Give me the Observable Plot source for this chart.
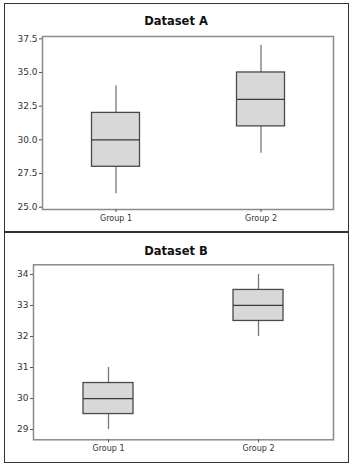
<!DOCTYPE html>
<html>
<head>
<meta charset="utf-8">
<script src="https://cdn.jsdelivr.net/npm/d3@7"></script>
<script src="https://cdn.jsdelivr.net/npm/@observablehq/plot@0.6"></script>
<style>
  html, body { margin: 0; padding: 0; background: #fff; }
  #page { position: relative; width: 363px; height: 469px; overflow: hidden; font-family: "DejaVu Sans", sans-serif; }
  .frame { position: absolute; box-sizing: border-box; border: 1px solid #333; }
  .title { position: absolute; left: 0; width: 352px; text-align: center; font: bold 11.5px "DejaVu Sans", sans-serif; color: #111; }
  .plot { position: absolute; left: 0; }
</style>
</head>
<body>
<div id="page">
  <div class="frame" style="left:4px;top:3px;width:345px;height:230px;border-bottom:2px solid #333;"></div>
  <div class="frame" style="left:4px;top:231px;width:345px;height:232px;border-top:2px solid #333;"></div>
  <div class="title" style="top:14px;">Dataset A</div>
  <div class="title" style="top:244px;">Dataset B</div>
  <div class="plot" id="pa" style="top:0px;"></div>
  <div class="plot" id="pb" style="top:232px;"></div>
</div>
<script>
const groups = ["Group 1", "Group 2"];

// Dataset A
const aMin = [26, 29];
const aQ1  = [28, 31];
const aMed = [30, 33];
const aQ3  = [32, 35];
const aMax = [34, 37];
const aTicks = [25, 27.5, 30, 32.5, 35, 37.5];

// Dataset B
const bMin = [29, 32];
const bQ1  = [29.5, 32.5];
const bMed = [30, 33];
const bQ3  = [30.5, 33.5];
const bMax = [31, 34];
const bTicks = [29, 30, 31, 32, 33, 34];

function rows(mn, q1, md, q3, mx) {
  return groups.map((g, i) => ({group: g, min: mn[i], q1: q1[i], med: md[i], q3: q3[i], max: mx[i]}));
}

function boxChart({data, yDomain, ticks, fmt, marginLeft, marginTop, marginBottom, inset}) {
  return Plot.plot({
    width: 363,
    height: 232,
    marginLeft,
    marginRight: 30,
    marginTop,
    marginBottom,
    style: {fontFamily: "DejaVu Sans, sans-serif", color: "#333", background: "transparent"},
    x: {domain: groups, padding: 0, label: null, tickSize: 3, tickPadding: 3},
    y: {domain: yDomain, ticks: ticks, tickFormat: fmt, label: null, tickSize: 3, tickPadding: 2},
    marks: [
      Plot.frame({stroke: "#8a8a8a", strokeWidth: 1.5}),
      Plot.ruleX(data, {x: "group", y1: "min", y2: "max", stroke: "#777", strokeWidth: 1.3}),
      Plot.barY(data, {x: "group", y1: "q1", y2: "q3", fill: "#d8d8d8", stroke: "#4a4a4a", strokeWidth: 1.3, insetLeft: inset, insetRight: inset}),
      Plot.tickY(data, {x: "group", y: "med", stroke: "#3a3a3a", strokeWidth: 1.2, insetLeft: inset, insetRight: inset}),
      Plot.axisY({ticks: ticks, tickFormat: fmt, tickSize: 3, tickPadding: 2, fontSize: 9, stroke: "#555"}),
      Plot.axisX({tickSize: 3, tickPadding: 3, fontSize: 8, stroke: "#555"})
    ]
  });
}

document.getElementById("pa").append(boxChart({
  data: rows(aMin, aQ1, aMed, aQ3, aMax),
  yDomain: [24.83, 37.67],
  ticks: aTicks,
  fmt: d3.format(".1f"),
  marginLeft: 42,
  marginTop: 36,
  marginBottom: 23,
  inset: 48.5
}));

document.getElementById("pb").append(boxChart({
  data: rows(bMin, bQ1, bMed, bQ3, bMax),
  yDomain: [28.67, 34.31],
  ticks: bTicks,
  fmt: d3.format("d"),
  marginLeft: 33,
  marginTop: 32.3,
  marginBottom: 24.7,
  inset: 50
}));
</script>
</body>
</html>
